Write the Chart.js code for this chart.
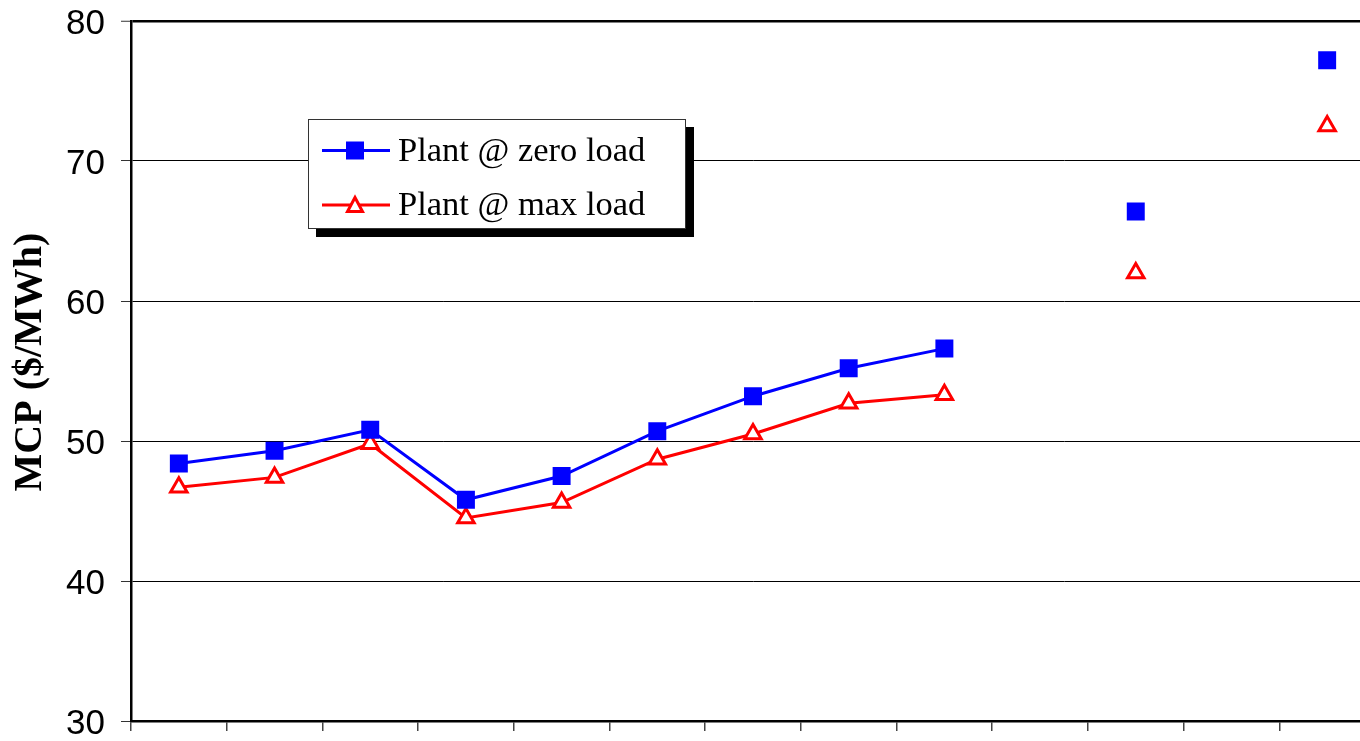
<!DOCTYPE html>
<html><head><meta charset="utf-8">
<script src="https://cdn.jsdelivr.net/npm/chart.js@4/dist/chart.umd.min.js"></script>
<style>html,body{margin:0;padding:0;background:#fff;overflow:hidden}#wrap{width:1360px;height:741px;overflow:hidden}canvas{display:block}</style>
</head><body><div id="wrap"><canvas id="c" width="1380" height="741"></canvas></div>
<script>
const categories = ['1','2','3','4','5','6','7','8','9','10','11','12','13'];
const zeroLoad = [48.4, 49.3, 50.8, 45.8, 47.5, 50.7, 53.2, 55.2, 56.6, null, 66.4, null, 77.2];
const maxLoad  = [46.7, 47.4, 49.8, 44.5, 45.6, 48.7, 50.5, 52.7, 53.3, null, 62.0, null, 72.5];
const yTicks = [30, 40, 50, 60, 70, 80];
const seriesNames = ['Plant @ zero load', 'Plant @ max load'];
const yTitle = 'MCP ($/MWh)';

const legendPlugin = {
  id: 'boxLegend',
  afterDraw(chart) {
    const ctx = chart.ctx;
    const bx = 308, by = 119, bw = 378, bh = 110;
    ctx.save();
    ctx.fillStyle = '#000';
    ctx.fillRect(bx + 8, by + 8, bw, bh);
    ctx.fillStyle = '#fff';
    ctx.fillRect(bx, by, bw, bh);
    ctx.strokeStyle = '#333';
    ctx.lineWidth = 1;
    ctx.strokeRect(bx + 0.5, by + 0.5, bw - 1, bh - 1);
    const rows = [150.5, 205];
    chart.data.datasets.forEach((ds, i) => {
      const y = rows[i];
      ctx.strokeStyle = ds.borderColor;
      ctx.lineWidth = 3;
      ctx.beginPath(); ctx.moveTo(322, y); ctx.lineTo(390, y); ctx.stroke();
      if (i === 0) {
        ctx.fillStyle = ds.borderColor;
        ctx.fillRect(346, y - 9, 18, 18);
      } else {
        ctx.fillStyle = '#fff';
        ctx.lineWidth = 3;
        ctx.beginPath();
        ctx.moveTo(355, y - 7.5);
        ctx.lineTo(362.5, y + 6.5);
        ctx.lineTo(347.5, y + 6.5);
        ctx.closePath();
        ctx.fill(); ctx.stroke();
      }
      ctx.fillStyle = '#000';
      ctx.font = '34.5px "Liberation Serif", "Times New Roman", serif';
      ctx.textAlign = 'left';
      ctx.textBaseline = 'alphabetic';
      ctx.fillText(ds.label, 398, i === 0 ? 161 : 215);
    });
    // rotated y-axis title
    ctx.translate(31, 362);
    ctx.rotate(-Math.PI / 2);
    ctx.fillStyle = '#000';
    ctx.font = 'bold 40px "Liberation Serif", "Times New Roman", serif';
    ctx.textAlign = 'center';
    ctx.textBaseline = 'middle';
    ctx.fillText(yTitle, 0, 0);
    ctx.restore();
  }
};

new Chart(document.getElementById('c'), {
  type: 'line',
  data: {
    labels: categories,
    datasets: [
      {
        label: seriesNames[0], data: zeroLoad,
        borderColor: '#0000FF', backgroundColor: '#0000FF',
        borderWidth: 3, pointStyle: 'rect', pointRadius: 12.7,
        pointBorderWidth: 0, pointBackgroundColor: '#0000FF',
        spanGaps: false, tension: 0
      },
      {
        label: seriesNames[1], data: maxLoad,
        borderColor: '#FF0000', backgroundColor: '#FFFFFF',
        borderWidth: 3, pointStyle: 'triangle', pointRadius: 9.5,
        pointBorderWidth: 3, pointBackgroundColor: '#FFFFFF', pointBorderColor: '#FF0000',
        spanGaps: false, tension: 0
      }
    ]
  },
  options: {
    responsive: false, animation: false, devicePixelRatio: 1,
    layout: { autoPadding: false, padding: { top: 21, right: 5, left: 0, bottom: 0 } },
    plugins: { legend: { display: false }, tooltip: { enabled: false } },
    events: [],
    scales: {
      x: {
        type: 'category', offset: true,
        grid: { display: true, drawOnChartArea: false, drawTicks: true, tickLength: 10, offset: true, color: '#444', lineWidth: 1.5 },
        border: { display: true, color: '#000', width: 2.5 },
        ticks: { display: false },
        afterFit(s) { s.height = 20; s.paddingLeft = 0; s.paddingRight = 0; }
      },
      y: {
        min: 30, max: 80,
        afterBuildTicks(s) { s.ticks = yTicks.map(v => ({ value: v })); },
        grid: {
          color: '#000',
          lineWidth: c => (c.tick && c.tick.value === 80 ? 2.5 : 1),
          drawTicks: true, tickLength: 10,
          tickColor: '#333', tickWidth: 1
        },
        border: { display: true, color: '#000', width: 2.5 },
        ticks: {
          color: '#000', padding: 16, labelOffset: 3,
          font: { family: '"Liberation Sans", Arial, sans-serif', size: 35 }
        },
        title: { display: false },
        afterFit(s) { s.width = 131; s.paddingTop = 0; s.paddingBottom = 0; }
      }
    }
  },
  plugins: [legendPlugin]
});
</script>
</body></html>
